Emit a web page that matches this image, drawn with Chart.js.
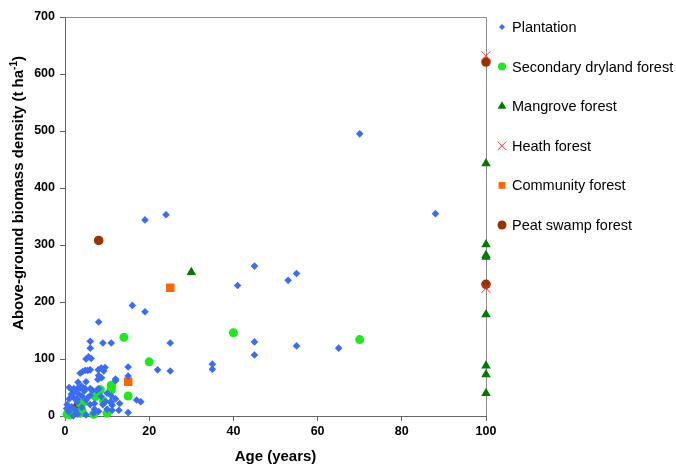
<!DOCTYPE html>
<html>
<head>
<meta charset="utf-8">
<script src="https://cdn.jsdelivr.net/npm/chart.js@4/dist/chart.umd.min.js"></script>
<style>
  body { margin: 0; background: #fff; }
  #wrap { width: 676px; height: 466px; }
</style>
</head>
<body>
<div id="wrap"><canvas id="grafico"></canvas></div>
<script>
// values (age in years, biomass in t/ha)
const plantationAge = [70, 88, 24, 19, 45, 55, 53, 41, 16, 19, 8, 6, 9, 11, 25, 45, 55, 65, 6, 45,
  5, 5.6, 6.2, 35, 35, 15, 22, 25, 15, 12, 12, 13, 11, 17, 18, 15, 11,
  3.6, 4.2, 4.8, 5.4, 6, 7.9, 8.6, 9.5, 9.2, 8, 7.8, 8.7, 3.1, 2.1, 2.9, 3.6, 4.8, 6, 1.9, 2.6,
  4.6, 6.5, 7.5, 8, 2.1, 2.9, 5.4, 2.9, 9.6, 10.8, 8.6, 11.2, 11.2, 12.8, 6.8, 0.9, 9, 6, 5, 1.6,
  0.4, 1, 1.5, 0.5, 3, 4, 5, 7, 8, 3, 2, 10, 5, 4, 1, 6, 7, 10, 12, 2.5, 4];
const plantationBiomass = [495, 355, 353, 344, 263, 250, 238, 229, 194, 183, 165, 131, 128, 128, 128, 130, 123, 119, 119, 107,
  100, 104, 101, 91, 82, 86, 81, 79, 70, 62, 65, 22, 23, 28, 25, 6, 35,
  75, 78, 80, 80, 81, 81, 84, 85, 79, 71, 64, 67, 59, 48, 48, 49, 48, 48, 44, 44,
  44, 45, 45, 48, 32, 30, 32, 25, 25, 25, 34, 19, 10, 10, 5, 7.5, 20, 20, 2, 16,
  13, 30, 38, 20, 40, 35, 28, 12, 8, 3, 0.5, 40, 60, 52, 50, 36, 22, 12, 30, 10, 15];

const secondaryAge = [70, 40, 20, 14, 15, 11, 11, 11, 8.4, 7.2, 9.2, 4.5, 3.6, 0.9, 1.3, 0.5, 3.6, 6.8, 10, 4, 2];
const secondaryBiomass = [134, 146, 95, 138, 35, 54, 50, 46, 46, 34, 26, 25, 22, 10.5, 2, 3, 5, 3, 5, 10, 6];

const mangroveAge = [30, 100, 100, 100, 100, 100, 100, 100, 100];
const mangroveBiomass = [252, 443, 301, 282, 279, 178, 88, 73, 40];

const heathAge = [100, 100];
const heathBiomass = [632, 224];

const communityAge = [25, 15];
const communityBiomass = [225, 60];

const peatAge = [100, 100, 8, 3];
const peatBiomass = [621, 231, 308, 17];

const xTicks = [0, 20, 40, 60, 80, 100];
const yTicks = [0, 100, 200, 300, 400, 500, 600, 700];

const fonte = '"Liberation Sans", Arial, sans-serif';

function pontos(xs, ys) {
  return xs.map((x, i) => ({ x: x, y: ys[i] }));
}

function serie(label, xs, ys, estilo, cor, raio, legendaRaio) {
  return {
    label: label,
    data: pontos(xs, ys),
    pointStyle: estilo,
    pointRadius: raio,
    pointHoverRadius: raio,
    backgroundColor: cor,
    borderColor: cor,
    pointBorderWidth: estilo === 'crossRot' ? 1 : 0,
    legendaRaio: legendaRaio,
    clip: false
  };
}

const datasets = [
  serie('Plantation', plantationAge, plantationBiomass, 'rectRot', '#3a6cf4', 3.8, 3),
  serie('Secondary dryland forest', secondaryAge, secondaryBiomass, 'circle', '#1de91d', 4.5, 4),
  serie('Mangrove forest', mangroveAge, mangroveBiomass, 'triangle', '#007a00', 5.5, 5),
  serie('Heath forest', heathAge, heathBiomass, 'crossRot', '#ff2a2a', 6.5, 6),
  serie('Community forest', communityAge, communityBiomass, 'rect', '#ff6600', 6, 4.8),
  serie('Peat swamp forest', peatAge, peatBiomass, 'circle', '#993300', 4.8, 4.5)
];

// frame, legend and y title drawn by hand
const extras = {
  id: 'extras',
  beforeDatasetsDraw(chart) {
    const { ctx, chartArea: a } = chart;
    ctx.save();
    ctx.strokeStyle = '#8c8c8c';
    ctx.lineWidth = 1;
    ctx.beginPath();
    ctx.moveTo(a.left, a.top + 0.5);
    ctx.lineTo(a.right + 0.5, a.top + 0.5);
    ctx.lineTo(a.right + 0.5, a.bottom);
    ctx.stroke();
    ctx.restore();
  },
  afterDraw(chart) {
    const ctx = chart.ctx;
    ctx.save();
    // legend
    ctx.font = '14.5px ' + fonte;
    ctx.textBaseline = 'middle';
    ctx.textAlign = 'left';
    chart.data.datasets.forEach((ds, i) => {
      const y = 27 + i * 39.6;
      ctx.fillStyle = ds.backgroundColor;
      ctx.strokeStyle = ds.borderColor;
      ctx.lineWidth = 1;
      Chart.helpers.drawPoint(ctx, {
        pointStyle: ds.pointStyle,
        radius: ds.legendaRaio,
        rotation: 0,
        borderWidth: ds.pointBorderWidth
      }, 502, y);
      ctx.fillStyle = '#000';
      ctx.fillText(ds.label, 512, y + 1);
    });

    // y axis title with superscript
    ctx.translate(19, 193);
    ctx.rotate(-Math.PI / 2);
    ctx.fillStyle = '#000';
    const parte1 = 'Above-ground biomass density (t ha';
    const sup = '-1';
    const parte2 = ')';
    ctx.font = 'bold 15px ' + fonte;
    const w1 = ctx.measureText(parte1).width;
    const w3 = ctx.measureText(parte2).width;
    ctx.font = 'bold 10px ' + fonte;
    const w2 = ctx.measureText(sup).width;
    let x = -(w1 + w2 + w3) / 2;
    ctx.textBaseline = 'middle';
    ctx.font = 'bold 15px ' + fonte;
    ctx.fillText(parte1, x, 0);
    x += w1;
    ctx.font = 'bold 10px ' + fonte;
    ctx.fillText(sup, x, -5);
    x += w2;
    ctx.font = 'bold 15px ' + fonte;
    ctx.fillText(parte2, x, 0);
    ctx.restore();
  }
};

const ctx = document.getElementById('grafico').getContext('2d');
new Chart(ctx, {
  type: 'scatter',
  data: { datasets: datasets },
  options: {
    responsive: true,
    maintainAspectRatio: false,
    animation: false,
    layout: { padding: { top: 17, right: 190, left: 0, bottom: 0 } },
    plugins: {
      legend: { display: false },
      tooltip: { enabled: false }
    },
    scales: {
      x: {
        type: 'linear',
        min: xTicks[0],
        max: xTicks[xTicks.length - 1],
        afterBuildTicks: (scale) => { scale.ticks = xTicks.map(v => ({ value: v })); },
        afterFit: (scale) => { scale.height = 50; },
        grid: { drawOnChartArea: false, drawTicks: true, tickLength: 5, color: '#666' },
        border: { color: '#666', width: 1 },
        ticks: { color: '#000', padding: 3, font: { family: fonte, size: 12.5, weight: 'bold' } },
        title: {
          display: true,
          text: 'Age (years)',
          color: '#000',
          padding: 0,
          font: { family: fonte, size: 15, weight: 'bold' }
        }
      },
      y: {
        type: 'linear',
        min: yTicks[0],
        max: yTicks[yTicks.length - 1],
        afterBuildTicks: (scale) => { scale.ticks = yTicks.map(v => ({ value: v })); },
        afterFit: (scale) => { scale.width = 65; },
        grid: { drawOnChartArea: false, drawTicks: true, tickLength: 5, color: '#666' },
        border: { color: '#666', width: 1 },
        ticks: { color: '#000', padding: 5, font: { family: fonte, size: 12.5, weight: 'bold' } }
      }
    }
  },
  plugins: [extras]
});
</script>
</body>
</html>
